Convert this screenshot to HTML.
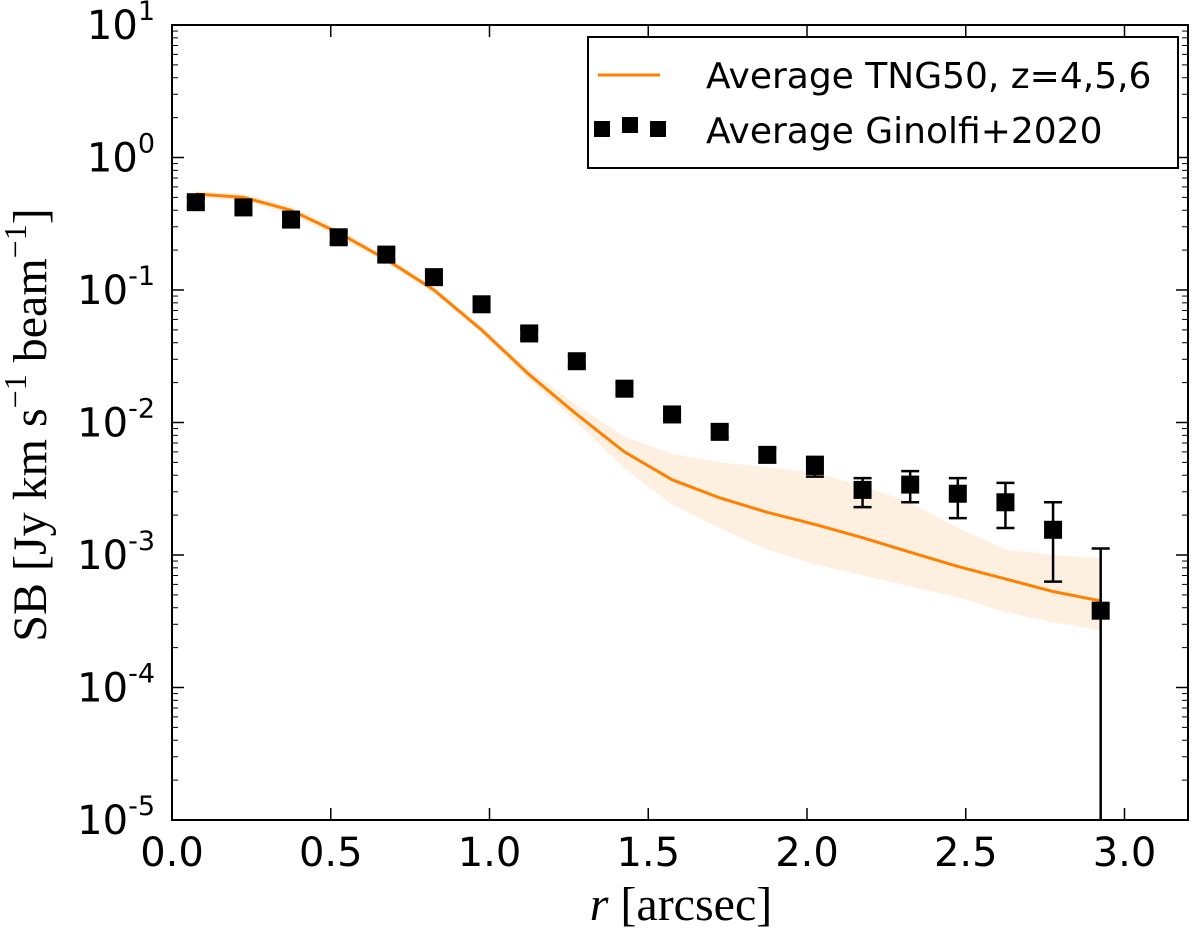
<!DOCTYPE html>
<html><head><meta charset="utf-8"><style>
body{margin:0;background:#fff;}
svg text{font-family:"DejaVu Sans","Liberation Sans",sans-serif;}
</style></head><body>
<svg id="chart" width="1200" height="940" xmlns="http://www.w3.org/2000/svg"></svg>
<script>
const radii=[0.075,0.225,0.375,0.525,0.675,0.825,0.975,1.125,1.275,1.425,1.575,1.725,1.875,2.025,2.175,2.325,2.475,2.625,2.775,2.925];
const obsValues=[0.46,0.42,0.34,0.25,0.185,0.125,0.078,0.047,0.029,0.018,0.0115,0.0085,0.0057,0.0047,0.0031,0.0034,0.0029,0.0025,0.00155,0.00038];
const obsLow=[0.42,0.38,0.31,0.225,0.168,0.113,0.071,0.043,0.0265,0.0165,0.0105,0.0077,0.005,0.0039,0.0023,0.0025,0.0019,0.0016,0.00063,0.000001];
const obsHigh=[0.50,0.46,0.37,0.275,0.2,0.137,0.085,0.051,0.032,0.0198,0.0126,0.0094,0.0064,0.0055,0.0038,0.0043,0.0038,0.0035,0.0025,0.00112];
const simValues=[0.53,0.50,0.40,0.27,0.17,0.10,0.05,0.023,0.0115,0.006,0.0037,0.0027,0.0021,0.0017,0.00135,0.00105,0.00082,0.00066,0.00053,0.00045];
const simUpper=[0.56,0.53,0.43,0.29,0.18,0.106,0.053,0.025,0.0135,0.0078,0.0058,0.005,0.0046,0.0042,0.0033,0.0025,0.0016,0.0011,0.001,0.00095];
const simLower=[0.50,0.47,0.37,0.25,0.16,0.094,0.047,0.021,0.010,0.0045,0.0024,0.0016,0.0011,0.00085,0.0007,0.00058,0.00048,0.00037,0.00031,0.00027];
const xTicks=[0,0.5,1.0,1.5,2.0,2.5,3.0];
const xTickLabels=["0.0","0.5","1.0","1.5","2.0","2.5","3.0"];
const yExps=[1,0,-1,-2,-3,-4,-5];

const L=172,R=1188,T=25,B=820,XMAX=3.2,YMIN=-5,YMAX=1;
const sx=v=>L+v/XMAX*(R-L);
const sy=v=>T+(YMAX-Math.log10(v))/(YMAX-YMIN)*(B-T);
const svg=document.getElementById('chart');
const NS='http://www.w3.org/2000/svg';
function mk(tag,attrs,parent){const e=document.createElementNS(NS,tag);for(const k in attrs)e.setAttribute(k,attrs[k]);(parent||svg).appendChild(e);return e;}

let pts=radii.map((r,i)=>sx(r)+','+sy(simUpper[i]));
pts=pts.concat(radii.map((r,i)=>sx(r)+','+sy(simLower[i])).reverse());
const band=mk('polygon',{points:pts.join(' '),fill:'#fef0e1',stroke:'none'});



const line=mk('polyline',{points:radii.map((r,i)=>sx(r)+','+sy(simValues[i])).join(' '),fill:'none',stroke:'#ff8000','stroke-width':3});



radii.forEach((r,i)=>{
  const g=mk('g',{});
  
  
  const x=sx(r),yl=Math.min(sy(obsLow[i]),B),yh=sy(obsHigh[i]);
  mk('line',{x1:x,x2:x,y1:yl,y2:yh,stroke:'#000','stroke-width':2.5},g);
  mk('line',{x1:x-9,x2:x+9,y1:yh,y2:yh,stroke:'#000','stroke-width':2.5},g);
  if(sy(obsLow[i])<B) mk('line',{x1:x-9,x2:x+9,y1:yl,y2:yl,stroke:'#000','stroke-width':2.5},g);
  const y=sy(obsValues[i]);
  mk('rect',{x:x-9,y:y-9,width:18,height:18,fill:'#000'},g);
});

const fr=mk('rect',{x:L,y:T,width:R-L,height:B-T,fill:'none',stroke:'#000','stroke-width':2});



xTicks.forEach((v,i)=>{
  const x=sx(v);
  mk('line',{x1:x,x2:x,y1:B,y2:B-12,stroke:'#000','stroke-width':1.5});
  mk('line',{x1:x,x2:x,y1:T,y2:T+12,stroke:'#000','stroke-width':1.5});
  const t=mk('text',{x:x,y:B+46,'text-anchor':'middle','font-size':40});
  t.textContent=xTickLabels[i];
  
  
});
yExps.forEach(e=>{
  const y=sy(Math.pow(10,e));
  mk('line',{x1:L,x2:L+12,y1:y,y2:y,stroke:'#000','stroke-width':1.5});
  mk('line',{x1:R,x2:R-12,y1:y,y2:y,stroke:'#000','stroke-width':1.5});
  if(e>YMIN) for(let m=2;m<10;m++){const ym=sy(m*Math.pow(10,e-1));
    mk('line',{x1:L,x2:L+6,y1:ym,y2:ym,stroke:'#000','stroke-width':1});
    mk('line',{x1:R,x2:R-6,y1:ym,y2:ym,stroke:'#000','stroke-width':1});}
  const t=mk('text',{x:L-17,y:y+14,'text-anchor':'end','font-size':40});
  
  
  t.innerHTML='10<tspan dy="-19" font-size="27">'+e+'</tspan>';
});

const xt=mk('text',{x:681,y:920,'text-anchor':'middle','font-size':48,style:'font-family:"Liberation Serif",serif'});
xt.innerHTML='<tspan font-style="italic">r</tspan> [arcsec]';


const yt=mk('text',{transform:'translate(46,425) rotate(-90)','text-anchor':'middle','font-size':48,style:'font-family:"Liberation Serif",serif'});
yt.innerHTML='SB [Jy km s<tspan dy="-20" font-size="32">−1</tspan><tspan dy="20"> beam</tspan><tspan dy="-20" font-size="32">−1</tspan><tspan dy="20">]</tspan>';



const lg=mk('g',{});


mk('rect',{x:588,y:37,width:590,height:131,fill:'#fff',stroke:'#000','stroke-width':2},lg);
const e1=mk('g',{},lg);


mk('line',{x1:598,x2:660,y1:75,y2:75,stroke:'#ff8000','stroke-width':3},e1);
const t1=mk('text',{x:706,y:88,'font-size':36},e1);t1.textContent='Average TNG50, z=4,5,6';
const e2=mk('g',{},lg);


[602,630,658].forEach((x,k)=>mk('rect',{x:x-8,y:(k==1?125:129)-8,width:16,height:16,fill:'#000'},e2));
const t2=mk('text',{x:706,y:143,'font-size':36},e2);t2.textContent='Average Ginolfi+2020';
</script>
</body></html>
